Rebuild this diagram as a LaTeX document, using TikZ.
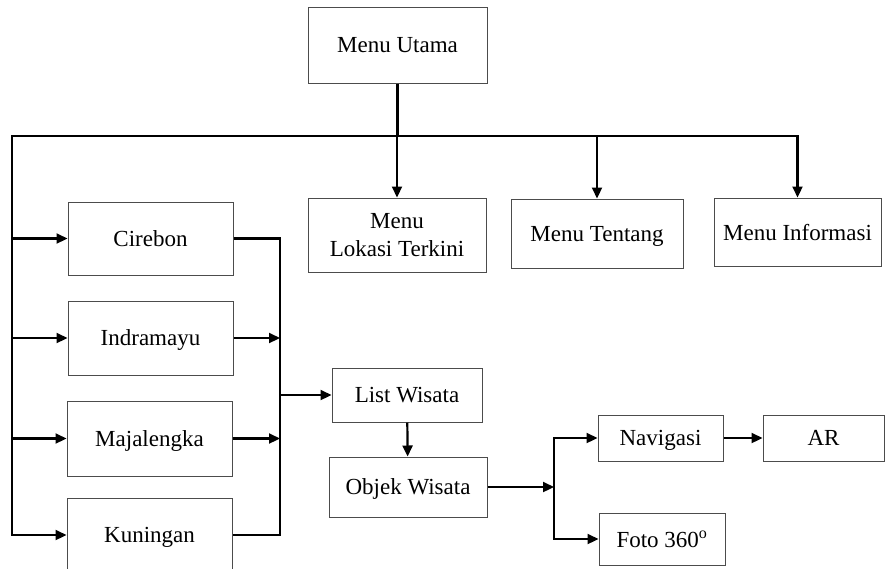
\documentclass[tikz,border=0pt]{standalone}
\usepackage{fontspec}
\setmainfont{Liberation Serif}
\usetikzlibrary{graphs,arrows.meta}

\tikzset{box/.style={draw=black!70,line width=1pt,inner sep=0pt}}

\begin{document}
\begin{tikzpicture}[x=1pt,y=-1pt,font=\fontsize{23}{28}\selectfont,text depth=0pt,align=center,
                    line width=2.2pt,>={Triangle[length=11pt,width=10pt]}]
\useasboundingbox (0,0) rectangle (885,568);
\clip (0,0) rectangle (885,568);
\graph [no placement, nodes={box}]
{
    MenuUtama[at={(397.5, 45.0)},minimum width=179,minimum height=76,as={Menu Utama}],

       Lokasi[at={(397.0,235.0)},minimum width=178,minimum height=74,as={Menu\\Lokasi Terkini}],
      Tentang[at={(597.0,233.5)},minimum width=172,minimum height=69,as={Menu Tentang}],
    Informasi[at={(797.5,232.0)},minimum width=167,minimum height=68,as={Menu Informasi}],

      Cirebon[at={(150.5,238.5)},minimum width=165,minimum height=73],
    Indramayu[at={(150.5,338.0)},minimum width=165,minimum height=74],
   Majalengka[at={(149.5,438.5)},minimum width=165,minimum height=75],
     Kuningan[at={(149.5,535.0)},minimum width=165,minimum height=74],

   ListWisata[at={(407.0,395.0)},minimum width=150,minimum height=54,as={List Wisata}],
  ObjekWisata[at={(408.0,487.0)},minimum width=158,minimum height=60,as={Objek Wisata}],

     Navigasi[at={(660.5,438.0)},minimum width=125,minimum height=46],
           AR[at={(823.5,438.0)},minimum width=121,minimum height=46],
         Foto[at={(662.0,539.0)},minimum width=126,minimum height=52,as={Foto 360\textsuperscript{o}}],

  ListWisata -> ObjekWisata,
  Navigasi -> AR
};
\coordinate (busL) at (12,136);
\coordinate (col)  at (280,395);
\coordinate (fork) at (554,487);
\draw (MenuUtama.south) -- (MenuUtama.south |- busL);
\draw[<->] (Informasi.north) |- (busL) |- (Kuningan.west);
\draw[->] (Lokasi.north |- busL) -- (Lokasi.north);
\draw[->] (Tentang.north |- busL) -- (Tentang.north);
\foreach \k in {Cirebon,Indramayu,Majalengka}
  \draw[->] (busL |- \k) -- (\k.west);
\draw (Cirebon.east) -| (col) |- (Kuningan.east);
\foreach \k in {Indramayu,Majalengka}
  \draw[->] (\k.east) -- (\k.east -| col);
\draw[->] (col) -- (ListWisata.west);
\draw[->] (ObjekWisata.east) -- (fork);
\draw[<->] (Navigasi.west) -| (fork) |- (Foto.west);
\end{tikzpicture}
\end{document}
